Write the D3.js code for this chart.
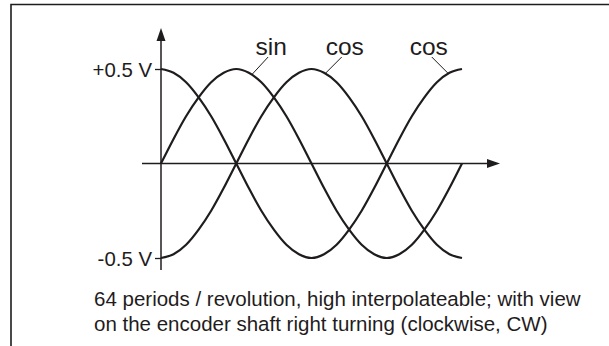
<!DOCTYPE html>
<html lang="en">
<head>
	<title>sin cos signals</title>
	<meta charset="utf-8" />
	<script src="https://cdnjs.cloudflare.com/ajax/libs/d3/7.8.5/d3.min.js"></script>
	<style>
		body { margin: 0; background: #fff; }
		svg { display: block; font-family: "Liberation Sans", Arial, Helvetica, sans-serif; }
	</style>
</head>
<body>
	<svg width="609" height="346"></svg>
	<script>
		// electrical angle in degrees, one full period
		let phase = [0, 15, 30, 45, 60, 75, 90, 105, 120, 135, 150, 165, 180,
			195, 210, 225, 240, 255, 270, 285, 300, 315, 330, 345, 360];
		// volts
		let sinV = [0, 0.13, 0.25, 0.35, 0.43, 0.48, 0.5, 0.48, 0.43, 0.35, 0.25, 0.13, 0,
			-0.13, -0.25, -0.35, -0.43, -0.48, -0.5, -0.48, -0.43, -0.35, -0.25, -0.13, 0];
		let cosV = [0.5, 0.48, 0.43, 0.35, 0.25, 0.13, 0, -0.13, -0.25, -0.35, -0.43, -0.48, -0.5,
			-0.48, -0.43, -0.35, -0.25, -0.13, 0, 0.13, 0.25, 0.35, 0.43, 0.48, 0.5];
		let cosInvV = [-0.5, -0.48, -0.43, -0.35, -0.25, -0.13, 0, 0.13, 0.25, 0.35, 0.43, 0.48, 0.5,
			0.48, 0.43, 0.35, 0.25, 0.13, 0, -0.13, -0.25, -0.35, -0.43, -0.48, -0.5];

		let tickValues = [0.5, -0.5];
		let tickLabels = ["+0.5 V", "-0.5 V"];

		// curve labels: text, which series, phase where the leader touches it, leader direction
		let labelNames = ["sin", "cos", "cos"];
		let labelSeries = ["sin", "cosInv", "cos"];
		let labelPhase = [109, 197, 343];
		let labelSide = [1, 1, -1];

		let caption = ["64 periods / revolution, high interpolateable; with view",
			"on the encoder shaft right turning (clockwise, CW)"];

		let ink = '#1f1c1d';
		let svg = d3.select('svg');

		let x = d3.scaleLinear().domain([0, 360]).range([161, 462]);
		let y = d3.scaleLinear().domain([-0.5, 0.5]).range([258, 69]);

		// frame (top and left edges)
		svg.append('path')
			.attr('d', 'M11,346 V4.5 H609')
			.attr('fill', 'none')
			.attr('stroke', ink)
			.attr('stroke-width', 1.6);

		// axes with arrows
		let x0 = x(0), y0 = y(0);
		svg.append('line')
			.attr('x1', 142).attr('x2', 490)
			.attr('y1', y0).attr('y2', y0)
			.attr('stroke', ink).attr('stroke-width', 1.5);
		svg.append('path')
			.attr('d', `M500,${y0} L487,${y0 - 4.5} L487,${y0 + 4.5} Z`)
			.attr('fill', ink);
		svg.append('line')
			.attr('x1', x0).attr('x2', x0)
			.attr('y1', 270).attr('y2', 38)
			.attr('stroke', ink).attr('stroke-width', 1.5);
		svg.append('path')
			.attr('d', `M${x0},28 L${x0 - 4.5},41 L${x0 + 4.5},41 Z`)
			.attr('fill', ink);

		let yAxis = d3.axisLeft(y)
			.tickValues(tickValues)
			.tickSize(6)
			.tickPadding(3)
			.tickFormat((d, i) => tickLabels[i]);
		let gy = svg.append('g')
			.attr('transform', `translate(${x0},0)`)
			.call(yAxis);
		gy.select('.domain').remove();
		gy.selectAll('line').attr('stroke', ink).attr('stroke-width', 1.3);
		gy.selectAll('text')
			.attr('fill', ink)
			.style('font-size', '20.4px')
			.attr('dy', '0.36em');

		// signals
		let series = {sin: sinV, cos: cosV, cosInv: cosInvV};
		let line = d3.line()
			.x((d, i) => x(phase[i]))
			.y(d => y(d))
			.curve(d3.curveMonotoneX);
		svg.selectAll('path.signal')
			.data([sinV, cosV, cosInvV])
			.enter()
			.append('path')
			.attr('class', 'signal')
			.attr('d', line)
			.attr('fill', 'none')
			.attr('stroke', ink)
			.attr('stroke-width', 2.2);

		// labels with leader lines
		function valueAt(name, p) {
			let v = series[name];
			return d3.scaleLinear().domain(phase).range(v)(p);
		}
		labelNames.forEach((name, i) => {
			let px = x(labelPhase[i]);
			let py = y(valueAt(labelSeries[i], labelPhase[i])) - 1;
			let lx = px + labelSide[i] * 16;
			let ly = 57;
			svg.append('line')
				.attr('x1', px).attr('y1', py)
				.attr('x2', lx).attr('y2', ly)
				.attr('stroke', ink).attr('stroke-width', 1);
			svg.append('text')
				.attr('x', lx + labelSide[i] * 3)
				.attr('y', 55)
				.attr('text-anchor', 'middle')
				.attr('fill', ink)
				.style('font-size', '24.5px')
				.text(name);
		});

		svg.selectAll('text.caption')
			.data(caption)
			.enter()
			.append('text')
			.attr('class', 'caption')
			.attr('x', 94)
			.attr('y', (d, i) => 306 + i * 25)
			.attr('fill', ink)
			.style('font-size', '20.5px')
			.text(d => d);
	</script>
</body>
</html>
